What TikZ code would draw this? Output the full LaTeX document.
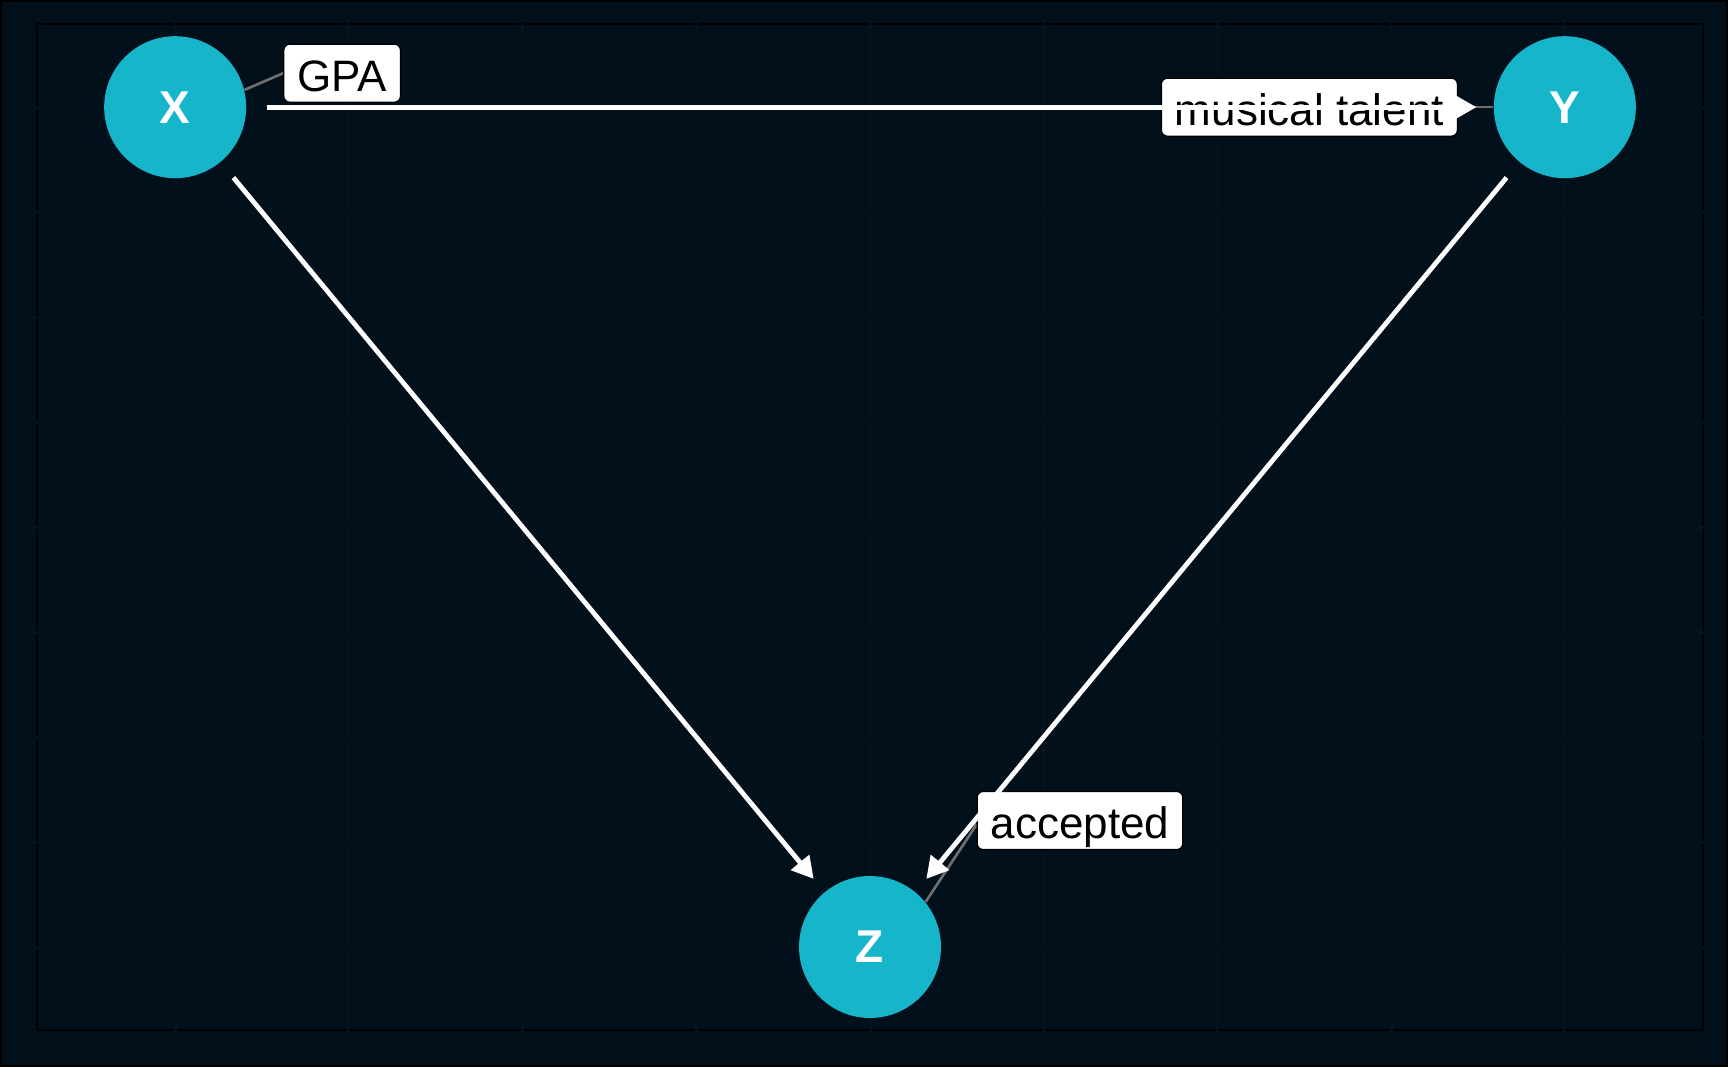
\documentclass[tikz,border=0pt]{standalone}
\usepackage{fontspec}
\setmainfont{Liberation Sans}
\usetikzlibrary{arrows.meta}
\definecolor{bgnavy}{HTML}{02101C}
\definecolor{gridnavy}{HTML}{04121E}
\definecolor{nodeteal}{HTML}{17B5C9}
\definecolor{leadergray}{HTML}{707070}
\pgfdeclarelayer{behind}
\pgfsetlayers{behind,main}
\tikzset{
  dagnode/.style={circle, fill=nodeteal, draw=none, minimum size=71pt, inner sep=0pt,
    text=white, font=\fontsize{23}{23}\selectfont\bfseries},
  dagedge/.style={draw=white, line width=2.4pt,
    -{Triangle[length=10.75pt, width=11.5pt]}, shorten <=10pt, shorten >=8.5pt},
  taglabel/.style={fill=white, draw=black, line width=0.6pt, rounded corners=3pt,
    text=black, font=\fontsize{22}{22}\selectfont, inner xsep=6.75pt, inner ysep=0pt,
    text height=23.5pt, text depth=5.5pt},
  leader/.style={draw=leadergray, line width=1.3pt},
  gridline/.style={draw=gridnavy, line width=1.5pt}
}
\begin{document}
\begin{tikzpicture}[x=0.5pt, y=-0.5pt]
  % background and frame
  \begin{pgfonlayer}{behind}
  \fill[bgnavy] (0,0) rectangle (1728,1067);
  \draw[black, line width=1.2pt] (1,1) rectangle (1727,1066);
  \draw[black, line width=1pt] (37,24) rectangle (1703,1030);
  \foreach \gx in {175,348.75,522.5,696.25,870,1043.75,1217.5,1391.25,1565}
    \draw[gridline] (\gx,22) -- (\gx,1032);
  \foreach \gy in {107,212,317,422,527,632,737,842,947}
    \draw[gridline] (35,\gy) -- (1705,\gy);
  \end{pgfonlayer}

  % nodes
  \node[dagnode] (X) at (175,107) {X};
  \node[dagnode] (Y) at (1565,107) {Y};
  \node[dagnode] (Z) at (870,947) {Z};

  % labels
  \node[taglabel] (gpa) at (342,73) {GPA};
  \node[taglabel] (mt) at (1309.5,107) {musical talent};
  \node[taglabel] (acc) at (1080,820.5) {accepted};

  % leader segments (behind the labels)
  \begin{pgfonlayer}{behind}
  \draw[leader] (X.14) -- (gpa.west);
  \draw[leader] (Y.180) -- (mt.east);
  \draw[leader] (Z.39) -- ([yshift=-2pt]acc.west);
  \end{pgfonlayer}

  % edges
  \draw[dagedge] (X) -- (Y);
  \draw[dagedge] (X) -- (Z);
  \draw[dagedge] (Y) -- (Z);
\end{tikzpicture}
\end{document}
